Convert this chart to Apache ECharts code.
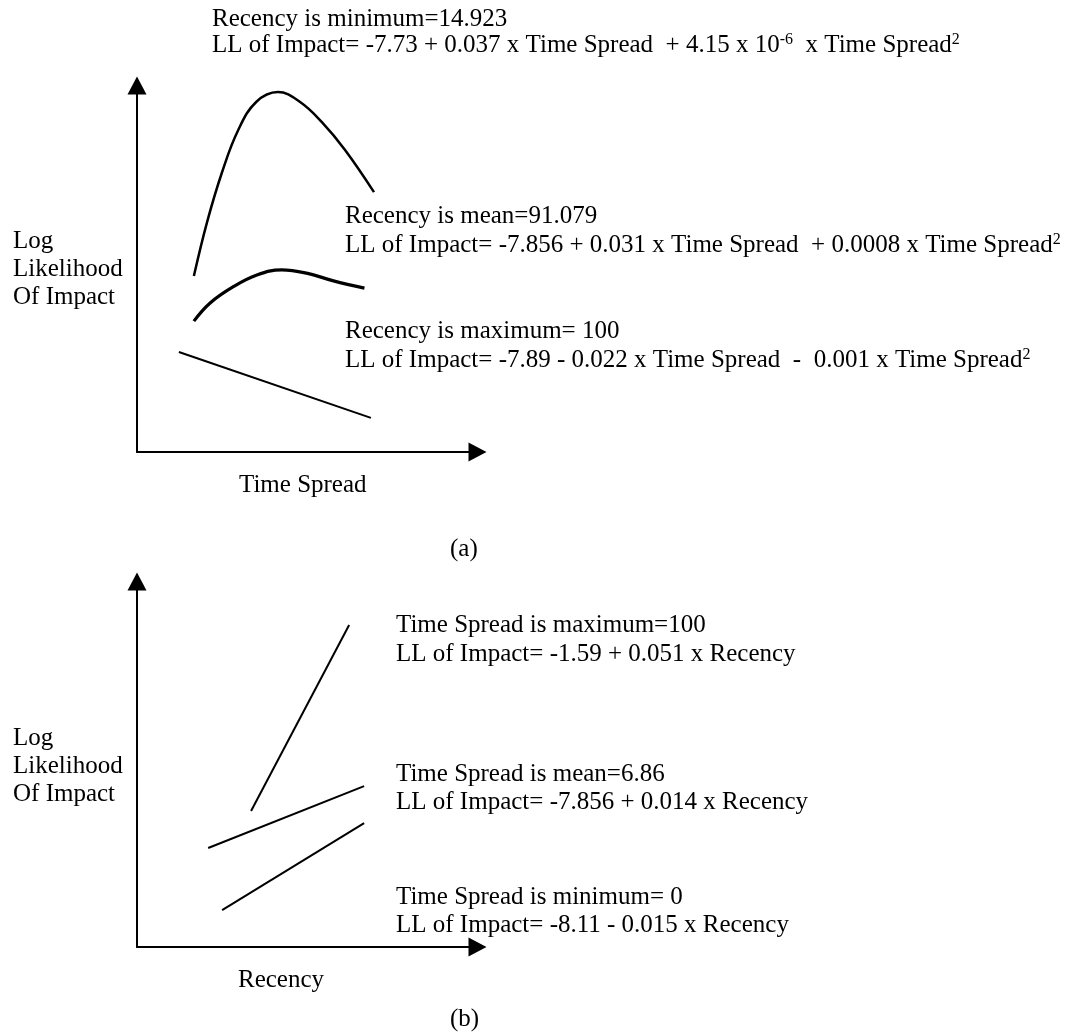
<!DOCTYPE html>
<html><head><meta charset="utf-8">
<script src="https://cdn.jsdelivr.net/npm/echarts@6/dist/echarts.min.js"></script>
<style>html,body{margin:0;padding:0;background:#fff}#c{width:1070px;height:1032px}</style>
</head><body><div id="c"></div>
<script>
// ---- Panel (a): Log Likelihood of Impact vs Time Spread (schematic, axis units 0-100)
const recencyMinX  = [16.7, 20.6, 25.0, 29.7, 35.0, 41.4, 47.9, 54.3, 61.1, 69.6];
const recencyMinY  = [48.0, 62.8, 76.4, 87.8, 95.5, 98.2, 95.5, 90.0, 82.4, 70.9];
const recencyMeanX = [16.7, 21.4, 28.3, 35.2, 42.5, 49.8, 57.7, 66.8];
const recencyMeanY = [35.7, 40.6, 45.1, 48.3, 49.7, 48.8, 46.7, 44.7];
const recencyMaxX  = [12.3, 68.7];
const recencyMaxY  = [27.3, 9.3];
// ---- Panel (b): Log Likelihood of Impact vs Recency
const spreadMaxX  = [33.5, 62.3];
const spreadMaxY  = [37.2, 88.1];
const spreadMeanX = [20.9, 66.7];
const spreadMeanY = [27.1, 44.0];
const spreadMinX  = [25.0, 66.7];
const spreadMinY  = [10.1, 33.9];

// ---- Text
const yAxisTitle = ['Log', 'Likelihood', 'Of Impact'];
const xTitleA = 'Time Spread';
const xTitleB = 'Recency';
const captions = ['(a)', '(b)'];
const notesA = [
  'Recency is minimum=14.923',
  [['n','LL of Impact= -7.73 + 0.037 x Time Spread  + 4.15 x 10'],['s','-6'],['n','  x Time Spread'],['s','2']],
  'Recency is mean=91.079',
  [['n','LL of Impact= -7.856 + 0.031 x Time Spread  + 0.0008 x Time Spread'],['s','2']],
  'Recency is maximum= 100',
  [['n','LL of Impact= -7.89 - 0.022 x Time Spread  -  0.001 x Time Spread'],['s','2']]
];
const notesB = [
  'Time Spread is maximum=100',
  'LL of Impact= -1.59 + 0.051 x Recency',
  'Time Spread is mean=6.86',
  'LL of Impact= -7.856 + 0.014 x Recency',
  'Time Spread is minimum= 0',
  'LL of Impact= -8.11 - 0.015 x Recency'
];

// ---- Rendering
const FAM = '"Liberation Serif","Times New Roman",serif';
const FS = 25;
const OFF = 7.5; // baseline offset from middle
const rich = {
  n: {fontSize: FS, fontFamily: FAM, lineHeight: 28, fill: '#000'},
  s: {fontSize: 16, fontFamily: FAM, lineHeight: 16, fill: '#000', verticalAlign: 'top'}
};
function txt(x, baseline, content) {
  let style;
  if (Array.isArray(content)) {
    style = {text: content.map(p => '{' + p[0] + '|' + p[1] + '}').join(''), rich: rich,
             align: 'left', verticalAlign: 'middle'};
  } else {
    style = {text: content, font: FS + 'px ' + FAM, fill: '#000', align: 'left', verticalAlign: 'middle'};
  }
  return {type: 'text', x: x, y: baseline - OFF, silent: true, style: style};
}
const graphics = [];
const aPos = [[212, 27], [212, 53], [345, 224], [345, 253], [345, 339], [345, 368]];
notesA.forEach((t, i) => graphics.push(txt(aPos[i][0], aPos[i][1], t)));
const bPos = [[396, 633], [396, 662], [396, 782], [396, 810], [396, 905], [396, 933]];
notesB.forEach((t, i) => graphics.push(txt(bPos[i][0], bPos[i][1], t)));
[249, 277, 305].forEach((b, i) => graphics.push(txt(13, b, yAxisTitle[i])));
[746, 774, 802].forEach((b, i) => graphics.push(txt(13, b, yAxisTitle[i])));
graphics.push(txt(239, 493, xTitleA));
graphics.push(txt(238, 988, xTitleB));
graphics.push(txt(450, 557, captions[0]));
graphics.push(txt(450, 1027, captions[1]));

function axis(gi) {
  return {
    gridIndex: gi, type: 'value', min: 0, max: 100,
    axisLine: {show: true, onZero: false, symbol: ['none', 'triangle'], symbolSize: [19, 18],
               lineStyle: {color: '#000', width: 2}},
    axisTick: {show: false}, axisLabel: {show: false}, splitLine: {show: false}
  };
}
function ser(xs, ys, gi, w, smooth) {
  return {
    type: 'line', xAxisIndex: gi, yAxisIndex: gi, smooth: smooth, symbol: 'none', silent: true,
    data: xs.map((v, i) => [v, ys[i]]),
    lineStyle: {color: '#000', width: w}, emphasis: {disabled: true}
  };
}
const chart = echarts.init(document.getElementById('c'), null, {renderer: 'canvas'});
chart.setOption({
  animation: false,
  backgroundColor: '#fff',
  grid: [
    {left: 137, top: 85.5, width: 340.5, height: 366.5, outerBoundsMode: 'none'},
    {left: 137, top: 581.5, width: 340.5, height: 365.5, outerBoundsMode: 'none'}
  ],
  xAxis: [axis(0), axis(1)],
  yAxis: [axis(0), axis(1)],
  series: [
    ser(recencyMinX, recencyMinY, 0, 2.5, 0.4),
    ser(recencyMeanX, recencyMeanY, 0, 3.2, 0.4),
    ser(recencyMaxX, recencyMaxY, 0, 2, false),
    ser(spreadMaxX, spreadMaxY, 1, 2, false),
    ser(spreadMeanX, spreadMeanY, 1, 2, false),
    ser(spreadMinX, spreadMinY, 1, 2, false)
  ],
  graphic: graphics
});
</script></body></html>
